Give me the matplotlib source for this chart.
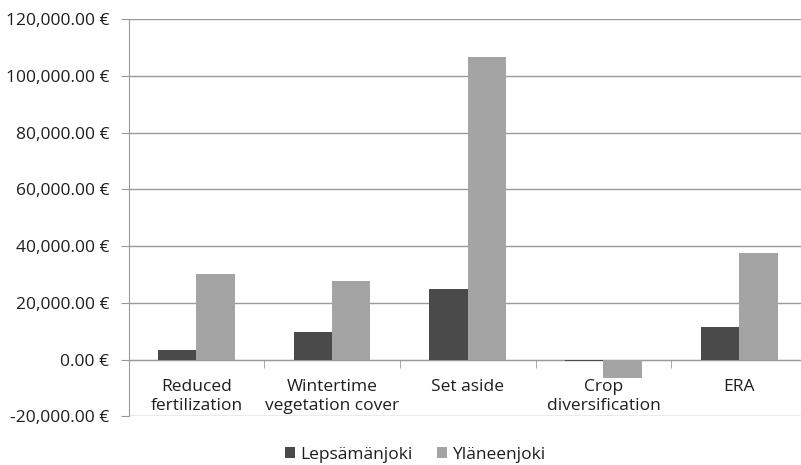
import matplotlib
matplotlib.use("Agg")
import matplotlib.pyplot as plt
from matplotlib.ticker import FuncFormatter, FixedLocator
import numpy as np

categories = ["Reduced\nfertilization", "Wintertime\nvegetation cover", "Set aside",
              "Crop\ndiversification", "ERA"]
series_names = ["Lepsämänjoki", "Yläneenjoki"]
lepsamanjoki = [3400, 9600, 25000, -600, 11500]
ylaneenjoki = [30200, 27800, 106500, -6400, 37500]
y_ticks = [-20000, 0, 20000, 40000, 60000, 80000, 100000, 120000]

plt.rcParams['font.family'] = ['Open Sans', 'DejaVu Sans']
FS = 12.5
TXT = "#1e1e1e"

fig = plt.figure(figsize=(8.01, 4.65), dpi=100)
ax = fig.add_axes([128.5/801, (465-416.3)/465, 678.5/801, (416.3-19)/465])

x = np.arange(len(categories))
w = 0.283
ax.bar(x - w/2, lepsamanjoki, width=w, color="#4a4a4a", label=series_names[0], zorder=5)
ax.bar(x + w/2, ylaneenjoki, width=w, color="#a4a4a4", label=series_names[1], zorder=5)

ax.set_xlim(-0.5, len(categories) - 0.5)
ax.set_ylim(y_ticks[0], y_ticks[-1])
ax.yaxis.set_major_locator(FixedLocator(y_ticks))
ax.yaxis.set_major_formatter(FuncFormatter(lambda v, p: f"{v:,.2f} €"))
ax.grid(axis='y', color="#9a9a9a", linewidth=1.0, zorder=0)

for s in ['top', 'right']:
    ax.spines[s].set_visible(False)
ax.spines['left'].set_color("#9a9a9a")
ax.spines['bottom'].set_color("#9a9a9a")
ax.spines['bottom'].set_position(('data', 0))
ax.spines['bottom'].set_zorder(4)

ax.set_xticks(x)
ax.set_xticklabels(categories, fontsize=FS, color=TXT, linespacing=1.25)
ax.set_xticks(np.arange(len(categories) + 1) - 0.5, minor=True)
ax.tick_params(axis='x', which='major', length=0, pad=14)
ax.tick_params(axis='x', which='minor', length=6, color="#9a9a9a", direction='out')
ax.tick_params(axis='y', length=6, color="#9a9a9a", pad=8, labelsize=FS, labelcolor=TXT)

fig.legend(loc='center', bbox_to_anchor=(415/801, 10/465), ncol=2, frameon=False,
           fontsize=FS, handlelength=0.58, handleheight=0.58, handletextpad=0.3,
           columnspacing=1.4, labelcolor=TXT)

fig.savefig("out.png", dpi=100)
